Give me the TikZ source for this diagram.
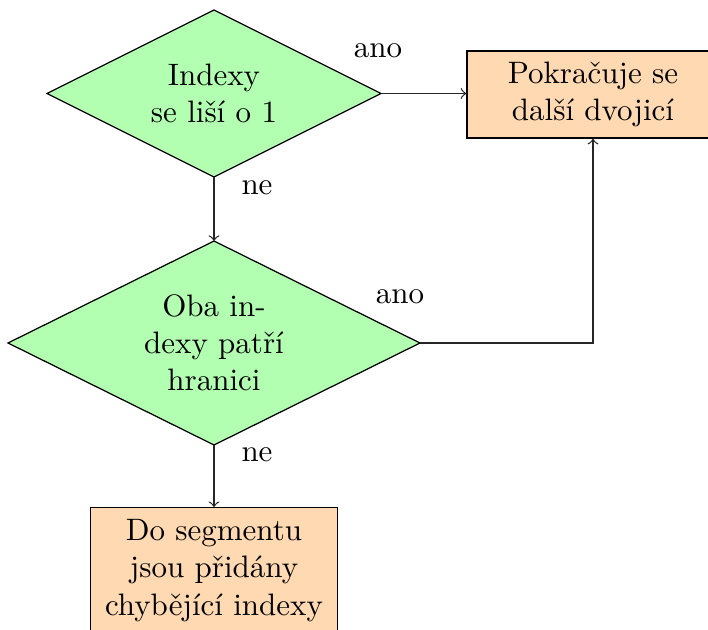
\documentclass[tikz,border=0pt]{standalone}
\usepackage{fontspec}
\usetikzlibrary{shapes.geometric,arrows}
\begin{document}
\begin{tikzpicture}[x=0.3226pt,y=-0.3226pt,
  decision/.style={diamond, shape aspect=2, draw=black, fill=green!30, align=center, inner sep=0pt, outer sep=0pt},
  processbox/.style={rectangle, draw=black, fill=orange!30, align=center, inner sep=0pt},
  conn/.style={draw=black!85, ->, line width=0.4pt},
  lbl/.style={inner sep=0pt}]
\path[use as bounding box, clip] (0,0) rectangle (708,630);
\node[decision, minimum width=107.7pt, minimum height=53.9pt] (d1) at (214,93.5) {Indexy\\se liší o 1};
\node[processbox, minimum width=81.3pt, minimum height=28.1pt] (b1) at (593,94.5) {Pokračuje se\\další dvojicí};
\node[decision, minimum width=132.9pt, minimum height=65.8pt] (d2) at (214,343) {Oba in-\\dexy patří\\hranici};
\node[processbox, minimum width=79.7pt, minimum height=40.5pt] (b2) at (214,570.5) {Do segmentu\\jsou přidány\\chybějící indexy};
\node[lbl] (l1) at (378,51) {ano};
\node[lbl] (l2) at (257,188) {ne};
\node[lbl] (l3) at (400,297) {ano};
\node[lbl] (l4) at (257,455) {ne};
\draw[conn] (d1.east) -- (b1.west |- d1.east);
\draw[conn] (d1.south) -- (d2.north);
\draw[conn] (d2.east) -| (b1.south);
\draw[conn] (d2.south) -- (b2.north);
\end{tikzpicture}
\end{document}
